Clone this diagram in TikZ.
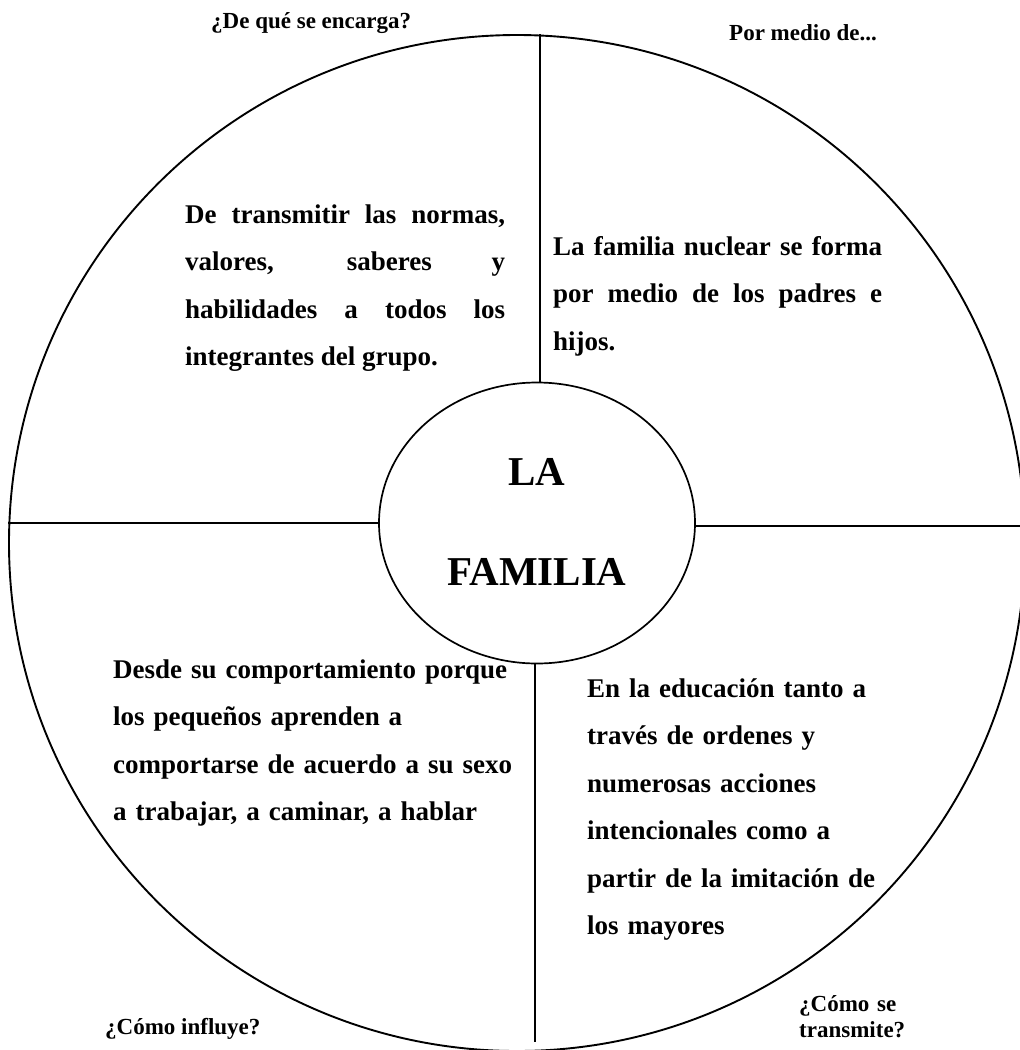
\documentclass[tikz,border=0pt]{standalone}
\usepackage{fontspec}
\setmainfont{Liberation Serif}
\usetikzlibrary{shapes.geometric}
\begin{document}
\begin{tikzpicture}[x=1pt,y=-1pt,
  ring/.style={draw, circle, line width=1.9pt, minimum size=1016pt, inner sep=0pt},
  core/.style={draw, ellipse, line width=1.7pt, minimum width=316pt, minimum height=281pt, inner sep=0pt},
  divider/.style={line width=1.5pt},
  body/.style={inner sep=0pt, anchor=base west, font=\fontsize{27}{47.5}\selectfont\bfseries},
  title/.style={inner sep=0pt, anchor=base, font=\fontsize{41}{41}\selectfont\bfseries},
  lab/.style={inner sep=0pt, anchor=base west, font=\fontsize{23}{26}\selectfont\bfseries}]
\useasboundingbox (0,0) rectangle (1020,1050);
\fill[white] (0,0) rectangle (1020,1050);
\node[ring] (big) at (517,543) {};
\node[core] (fam) at (537,523) {};
\draw[divider] ([xshift=3pt]fam.north) -- ([xshift=3pt]fam.north |- big.north);
\draw[divider] (fam.west) -- (fam.west -| big.west);
\draw[divider] ([yshift=-3pt]fam.east) -- ([yshift=-3pt]fam.east -| big.east);
\draw[divider, shorten >=10pt] ([xshift=-2pt]fam.south) -- ([xshift=-2pt]fam.south |- big.south);
\node[title] (t1) at (537,485) {LA};
\node[title] (t2) at (537,585) {FAMILIA};
\node[body, text width=320pt, align=justify] (b1) at (185,223)
  {De transmitir las normas,\linebreak valores, saberes y\linebreak habilidades a todos los\linebreak integrantes del grupo.};
\node[body, text width=329pt, align=justify] (b2) at (553,255)
  {La familia nuclear se forma\linebreak por medio de los padres e\linebreak hijos.};
\node[body, text width=420pt, align=left] (b3) at (113,678)
  {Desde su comportamiento porque\\los pequeños aprenden a\\comportarse de acuerdo a su sexo\\a trabajar, a caminar, a hablar};
\node[body, text width=400pt, align=left] (b4) at (587,697)
  {En la educación tanto a\\través de ordenes y\\numerosas acciones\\intencionales como a\\partir de la imitación de\\los mayores};
\node[lab] (q1) at (211,28) {¿De qué se encarga?};
\node[lab] (q2) at (729,40) {Por medio de...};
\node[lab] (q3) at (105,1034) {¿Cómo influye?};
\node[lab, text width=140pt, align=left] (q4) at (799,1011) {¿Cómo se\\transmite?};
\end{tikzpicture}
\end{document}
